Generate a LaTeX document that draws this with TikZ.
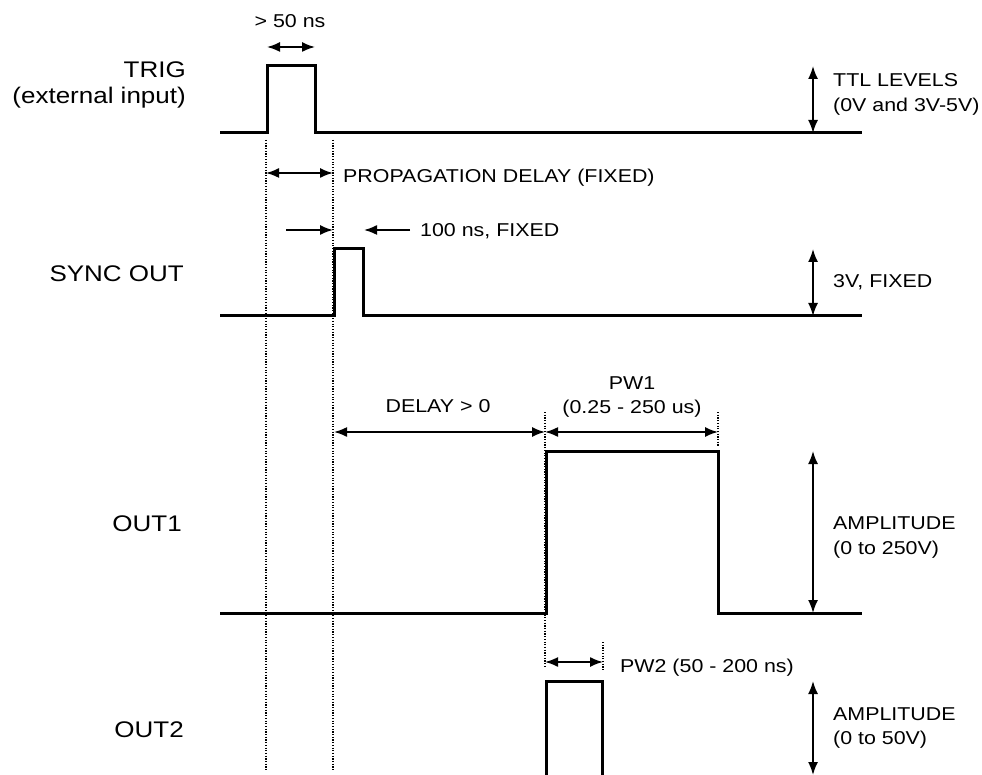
\documentclass[tikz,border=0pt]{standalone}
\usepackage{fontspec}
\setmainfont{Liberation Sans}[FakeStretch=1.15]
\usetikzlibrary{arrows.meta}
\begin{document}
\begin{tikzpicture}[x=1pt,y=-1pt,
  wave/.style={line width=3pt,line join=miter},
  guide/.style={line width=1.2pt,dash pattern=on 1.2pt off 1.5pt},
  dimboth/.style={line width=1.7pt,{Latex[length=13pt,width=10pt]}-{Latex[length=13pt,width=10pt]}},
  dimone/.style={line width=1.7pt,-{Latex[length=13pt,width=10pt]}},
  rlbl/.style={inner sep=0pt,font=\fontsize{18.6}{24}\selectfont},
  llbl/.style={inner sep=0pt,font=\fontsize{22.6}{26}\selectfont}]
\useasboundingbox (0,0) rectangle (982,775);
% ---------- key coordinates ----------
\coordinate (t0) at (266,140); \coordinate (t1) at (266,770);
\coordinate (s0) at (333,140); \coordinate (s1) at (333,770);
\coordinate (o0) at (545,412); \coordinate (o1) at (545,668);
\coordinate (p0) at (718,412); \coordinate (p1) at (718,446);
\coordinate (q0) at (603,642); \coordinate (q1) at (603,670);
% ---------- guides ----------
\draw[guide] (t0) -- (t1);
\draw[guide] (s0) -- (s1);
\draw[guide] (o0) -- (o1);
\draw[guide] (p0) -- (p1);
\draw[guide] (q0) -- (q1);
% ---------- waveforms ----------
\draw[wave] (220,133) -- (267,133) -- (267,66) -- (315,66) -- (315,133) -- (862,133);
\draw[wave] (220,316) -- (334,316) -- (334,249) -- (363,249) -- (363,316) -- (862,316);
\draw[wave] (220,613) -- (546,613) -- (546,451) -- (718,451) -- (718,613) -- (862,613);
\draw[wave] (546,790) -- (546,681) -- (602,681) -- (602,790);
% ---------- dimension arrows ----------
\coordinate (a50l) at (267,47); \coordinate (a50r) at (315,47);
\draw[dimboth] (a50l) -- (a50r);
\coordinate (ttlt) at (813,66); \coordinate (ttlb) at (813,133);
\draw[dimboth] (ttlt) -- (ttlb);
\coordinate (ppl) at (266,173); \coordinate (ppr) at (333,173);
\draw[dimboth] (ppl) -- (ppr);
\coordinate (h1a) at (286,230); \coordinate (h1b) at (333,230);
\draw[dimone] (h1a) -- (h1b);
\coordinate (h2a) at (410,230); \coordinate (h2b) at (364,230);
\draw[dimone] (h2a) -- (h2b);
\coordinate (v3t) at (813,249); \coordinate (v3b) at (813,316);
\draw[dimboth] (v3t) -- (v3b);
\coordinate (dl) at (334,432); \coordinate (dr) at (545,432); \coordinate (pr) at (718,432);
\draw[dimboth] (dl) -- (dr);
\draw[dimboth] (dr) -- (pr);
\coordinate (a1t) at (813,451); \coordinate (a1b) at (813,613);
\draw[dimboth] (a1t) -- (a1b);
\coordinate (w2l) at (545,662); \coordinate (w2r) at (603,662);
\draw[dimboth] (w2l) -- (w2r);
\coordinate (a2t) at (813,681); \coordinate (a2b) at (813,775);
\draw[dimboth] (a2t) -- (a2b);
% ---------- labels ----------
\node[llbl,anchor=base east] (trig) at (186,78) {TRIG};
\node[llbl,anchor=base east] (ext) at (186,104) {(external input)};
\node[llbl,anchor=base east] (sync) at (184,282) {SYNC OUT};
\node[llbl,anchor=base east] (out1) at (182,531) {OUT1};
\node[llbl,anchor=base east] (out2) at (184,737) {OUT2};
\node[rlbl,anchor=base] (gt50) at (290,28) {> 50 ns};
\node[rlbl,anchor=base west] (ttl1) at (833,87) {TTL LEVELS};
\node[rlbl,anchor=base west] (ttl2) at (833,112) {(0V and 3V-5V)};
\node[rlbl,anchor=base west] (prop) at (343,183) {PROPAGATION DELAY (FIXED)};
\node[rlbl,anchor=base west] (hund) at (420,237) {100 ns, FIXED};
\node[rlbl,anchor=base west] (v3) at (833,288) {3V, FIXED};
\node[rlbl,anchor=base] (del) at (438,412) {DELAY > 0};
\node[rlbl,anchor=base] (pw1a) at (632,389) {PW1};
\node[rlbl,anchor=base] (pw1b) at (632,413) {(0.25 - 250 us)};
\node[rlbl,anchor=base west] (amp1a) at (833,529) {AMPLITUDE};
\node[rlbl,anchor=base west] (amp1b) at (833,554) {(0 to 250V)};
\node[rlbl,anchor=base west] (pw2) at (620,672) {PW2 (50 - 200 ns)};
\node[rlbl,anchor=base west] (amp2a) at (833,720) {AMPLITUDE};
\node[rlbl,anchor=base west] (amp2b) at (833,744) {(0 to 50V)};
\end{tikzpicture}
\end{document}
